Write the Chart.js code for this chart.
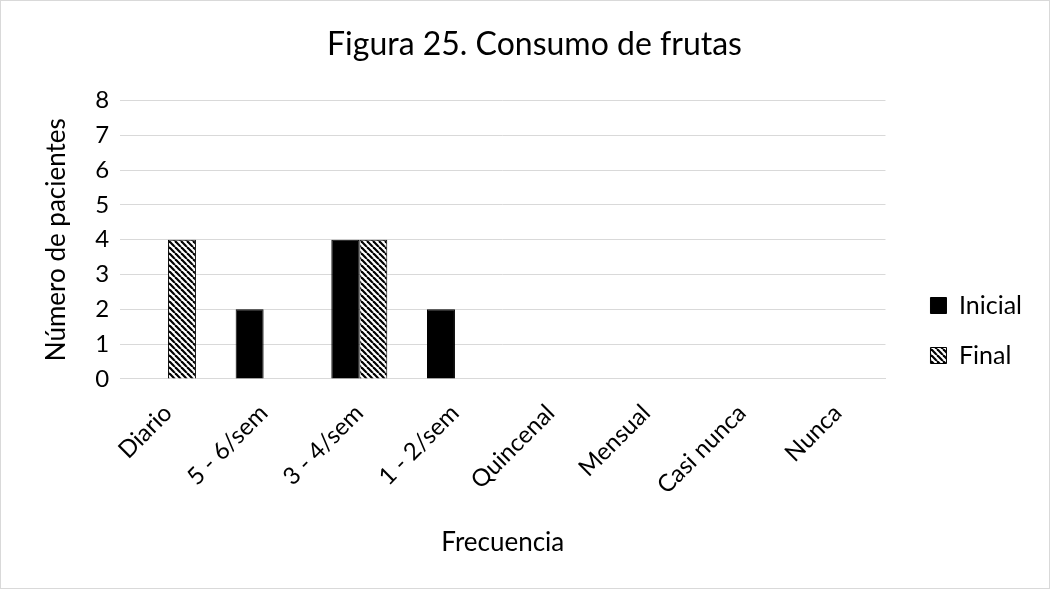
<!DOCTYPE html>
<html>
<head>
<meta charset="utf-8">
<script src="https://cdn.jsdelivr.net/npm/chart.js@4"></script>
<style>
    body { margin: 0; background: #fff; }
    #wrap { width: 1050px; height: 589px; box-sizing: border-box; border: 1px solid #d9d9d9; }
</style>
</head>
<body>
<div id="wrap"><canvas id="chart" width="1048" height="587"></canvas></div>
<script>
// Data
const categories = ["Diario", "5 - 6/sem", "3 - 4/sem", "1 - 2/sem", "Quincenal", "Mensual", "Casi nunca", "Nunca"];
const inicial = [0, 2, 4, 2, 0, 0, 0, 0];
const final = [4, 0, 4, 0, 0, 0, 0, 0];
const yMax = 8;

const FONT = "Lato, 'Open Sans', sans-serif";

// Diagonal hatch for the "Final" series
function makeHatch(ctx) {
    const tile = document.createElement("canvas");
    tile.width = 6;
    tile.height = 6;
    const g = tile.getContext("2d");
    g.fillStyle = "#fff";
    g.fillRect(0, 0, 6, 6);
    g.strokeStyle = "#000";
    g.lineWidth = 2.2;
    [-6, 0, 6].forEach(k => {
        g.beginPath();
        g.moveTo(k, 0);
        g.lineTo(k + 6, 6);
        g.stroke();
    });
    return ctx.createPattern(tile, "repeat");
}

document.addEventListener("DOMContentLoaded", () => {
    const ctx = document.getElementById("chart").getContext("2d");
    const hatch = makeHatch(ctx);

    new Chart(ctx, {
        type: "bar",
        data: {
            labels: categories,
            datasets: [
                {
                    label: "Inicial",
                    data: inicial,
                    backgroundColor: "#000",
                    borderColor: "#000",
                    borderWidth: 1,
                },
                {
                    label: "Final",
                    data: final,
                    backgroundColor: hatch,
                    borderColor: "#000",
                    borderWidth: 1,
                },
            ],
        },
        options: {
            responsive: false,
            animation: false,
            layout: { padding: { left: 36, right: 17, top: 24, bottom: 26 } },
            datasets: {
                bar: { categoryPercentage: 0.585, barPercentage: 1 },
            },
            plugins: {
                title: {
                    display: true,
                    text: "Figura 25. Consumo de frutas",
                    color: "#000",
                    font: { family: FONT, size: 32, weight: "normal" },
                    padding: { top: 0, bottom: 37 },
                },
                legend: {
                    position: "right",
                    title: {
                        display: true,
                        text: " ",
                        font: { family: FONT, size: 10 },
                        padding: { top: 31, bottom: 31 },
                    },
                    labels: {
                        color: "#000",
                        boxWidth: 16,
                        boxHeight: 16,
                        padding: 25,
                        font: { family: FONT, size: 25 },
                    },
                },
                tooltip: { enabled: false },
            },
            scales: {
                x: {
                    grid: { display: false },
                    border: { color: "#d9d9d9" },
                    ticks: {
                        color: "#000",
                        font: { family: FONT, size: 24 },
                        maxRotation: 45,
                        minRotation: 45,
                        padding: 12,
                    },
                    title: {
                        display: true,
                        text: "Frecuencia",
                        color: "#000",
                        font: { family: FONT, size: 26 },
                        padding: { top: 15 },
                    },
                },
                y: {
                    min: 0,
                    max: yMax,
                    grid: { color: "#d9d9d9", drawTicks: false },
                    border: { display: false },
                    ticks: {
                        stepSize: 1,
                        color: "#000",
                        font: { family: FONT, size: 24 },
                        padding: 11,
                    },
                    title: {
                        display: true,
                        text: "Número de pacientes",
                        color: "#000",
                        font: { family: FONT, size: 26 },
                        padding: { bottom: 12 },
                    },
                },
                gap: {
                    position: "right",
                    grid: { display: false },
                    border: { display: false },
                    ticks: { display: false },
                    afterFit: scale => { scale.width = 20; },
                },
            },
        },
    });
});
</script>
</body>
</html>
